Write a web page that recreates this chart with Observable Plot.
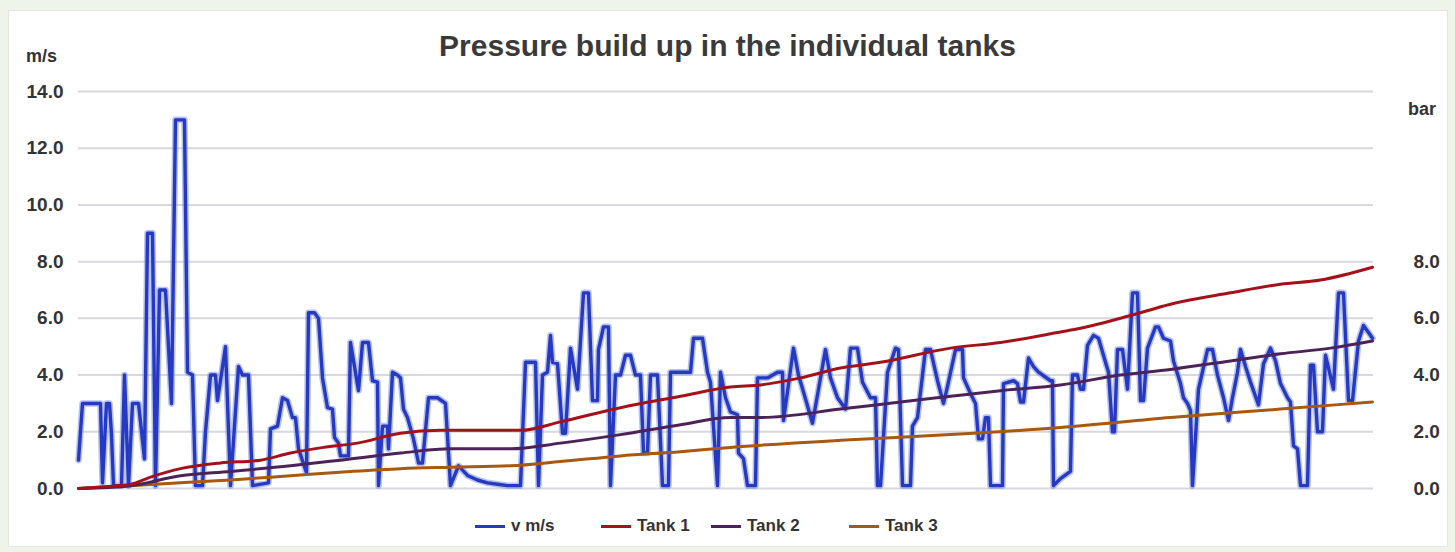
<!DOCTYPE html>
<html>
<head>
<meta charset="utf-8">
<script src="https://cdn.jsdelivr.net/npm/d3@7"></script>
<script src="https://cdn.jsdelivr.net/npm/@observablehq/plot@0.6"></script>
<style>
  html, body { margin:0; padding:0; }
  body { width:1455px; height:552px; background:#eef4ea; position:relative; overflow:hidden;
         font-family:"Liberation Sans", Arial, sans-serif; }
  #panel { position:absolute; left:8px; top:10px; width:1440px; height:537px; background:#ffffff; border:1px solid #e2e8de; box-sizing:border-box; }
  #chart { position:absolute; left:0; top:0; }
  .lbl { position:absolute; font-weight:bold; color:#333; white-space:nowrap; }
  #title { left:0; width:1455px; top:29px; text-align:center; font-size:30px; color:#3a3a3a; }
  #ylab { left:26px; top:46px; font-size:18px; }
  #y2lab { left:1408px; top:99px; font-size:18px; }
  .item { position:absolute; top:516px; display:flex; align-items:center; gap:6px; font-weight:bold; font-size:17px; color:#333; white-space:nowrap; }
  .sw { width:30px; height:3px; }
</style>
</head>
<body>
<div id="panel"></div>
<div id="chart"></div>
<div class="lbl" id="title">Pressure build up in the individual tanks</div>
<div class="lbl" id="ylab">m/s</div>
<div class="lbl" id="y2lab">bar</div>
<div id="legend"></div>
<script>
// ---- data ----
const seriesNames = ["v m/s", "Tank 1", "Tank 2", "Tank 3"];
const seriesColors = ["#2639c2", "#a3121a", "#4c2358", "#a8580f"];
const yTicks = [0, 2, 4, 6, 8, 10, 12, 14];
const barTicks = [0, 2, 4, 6, 8];

const vTime = [0,4,22,24,28,31,33,35,43,46,50,54,60,66,69,74,77,81,87,93,97,106,109,114,117,124,127,132,137,139,147,152,160,164,170,174,190,192,199,204,209,214,217,220,228,230,236,240,244,249,254,256,260,262,270,272,280,284,290,294,299,300,304,309,310,314,319,322,325,329,335,340,344,350,359,367,372,380,389,399,409,419,429,442,447,457,460,464,469,472,474,479,484,487,492,499,505,510,514,519,520,525,530,532,537,542,547,552,557,562,565,569,572,579,584,590,592,612,615,624,629,632,639,642,647,652,659,660,665,669,677,679,689,699,704,705,715,720,725,734,747,752,759,767,772,779,784,792,797,799,802,809,817,820,824,832,834,839,847,852,859,865,869,877,884,885,892,897,900,904,907,910,912,924,925,935,939,942,945,950,955,960,972,974,975,982,992,994,999,1002,1005,1009,1015,1020,1027,1030,1034,1036,1039,1044,1049,1054,1059,1062,1065,1069,1077,1080,1085,1092,1095,1102,1105,1109,1112,1114,1120,1129,1134,1139,1145,1150,1154,1159,1162,1167,1172,1180,1185,1192,1197,1202,1209,1212,1215,1219,1222,1229,1232,1235,1239,1244,1247,1255,1260,1265,1270,1274,1280,1285,1290,1294];
const vMs = [1.0,3.0,3.0,0.2,3.0,3.0,1.9,0.1,0.1,4.0,0.1,3.0,3.0,1.05,9.0,9.0,0.1,7.0,7.0,3.0,13.0,13.0,4.1,4.0,0.1,0.1,2.0,4.0,4.0,3.1,5.0,0.1,4.3,4.0,4.0,0.1,0.2,2.1,2.2,3.2,3.1,2.5,2.5,1.4,0.56,6.2,6.2,6.0,3.9,2.85,2.8,1.8,1.6,1.15,1.15,5.15,3.45,5.15,5.15,3.8,3.75,0.1,2.2,2.2,1.4,4.1,4.0,3.9,2.8,2.5,1.75,0.9,0.9,3.2,3.2,3.0,0.1,0.8,0.46,0.3,0.2,0.15,0.1,0.1,4.45,4.45,0.1,4.0,4.1,5.4,4.45,4.4,1.95,1.95,4.95,3.5,6.9,6.9,3.1,3.1,4.9,5.7,5.7,0.1,4.0,4.0,4.7,4.7,4.0,4.0,1.25,1.25,4.0,4.0,0.1,0.1,4.1,4.1,5.3,5.3,4.1,3.75,0.1,4.1,3.2,2.7,2.6,1.25,1.05,0.1,0.1,3.9,3.9,4.1,4.1,2.4,4.95,4.0,3.4,2.3,4.9,3.9,3.2,2.8,4.95,4.95,3.75,3.2,3.2,0.1,0.1,4.1,4.95,4.9,0.1,0.1,2.2,2.5,4.9,4.9,3.8,3.0,3.6,4.9,4.9,3.9,3.35,3.0,1.75,1.75,2.5,2.5,0.1,0.1,3.7,3.8,3.7,3.05,3.05,4.6,4.3,4.1,3.8,3.8,0.1,0.35,0.6,4.0,4.0,3.5,3.5,5.05,5.4,5.3,4.45,4.1,2.0,2.0,4.9,4.9,3.5,6.9,6.9,3.1,3.1,4.95,5.7,5.7,5.3,5.2,4.5,3.7,3.2,3.0,2.75,0.1,3.5,4.9,4.9,4.0,3.2,2.4,3.2,4.1,4.9,4.3,3.75,2.95,4.4,4.95,4.5,3.7,3.2,3.05,1.5,1.4,0.1,0.1,4.35,4.35,2.0,2.0,4.7,3.5,6.9,6.9,3.1,3.1,5.2,5.75,5.5,5.3];

const tank1Time = [0,22,52,72,102,142,182,212,245,279,322,362,442,482,542,602,652,682,722,762,802,872,922,982,1002,1052,1092,1152,1202,1242,1294];
const tank1Bar  = [0,0.05,0.15,0.4,0.7,0.9,1.0,1.25,1.45,1.6,1.95,2.05,2.05,2.35,2.85,3.25,3.58,3.65,3.9,4.25,4.45,4.95,5.15,5.52,5.65,6.1,6.5,6.9,7.2,7.35,7.8];
const tank2Time = [0,52,102,152,212,262,322,372,432,482,542,602,652,682,762,822,872,922,982,1042,1092,1152,1202,1252,1294];
const tank2Bar  = [0,0.1,0.45,0.6,0.8,1.0,1.25,1.4,1.4,1.6,1.9,2.25,2.5,2.5,2.8,3.05,3.25,3.45,3.65,4.0,4.2,4.5,4.75,4.95,5.2];
const tank3Time = [0,52,102,152,212,272,322,372,432,482,542,602,652,762,872,982,1092,1202,1294];
const tank3Bar  = [0,0.1,0.2,0.3,0.45,0.6,0.7,0.75,0.8,0.95,1.15,1.3,1.45,1.7,1.9,2.15,2.5,2.8,3.05];

// ---- build tables ----
const zip = (ts, vs) => ts.map((t, i) => ({t, v: vs[i]}));
const vData = zip(vTime, vMs);
const t1 = zip(tank1Time, tank1Bar);
const t2 = zip(tank2Time, tank2Bar);
const t3 = zip(tank3Time, tank3Bar);
const fmt = d => d.toFixed(1);

const chart = Plot.plot({
  width: 1455, height: 552,
  marginLeft: 78, marginRight: 82, marginTop: 91, marginBottom: 64,
  style: {background: "transparent", fontFamily: "'Liberation Sans', Arial, sans-serif", overflow: "visible"},
  x: {domain: [0, 1295], axis: null},
  y: {domain: [0, 14]},
  marks: [
    Plot.gridY(yTicks, {stroke: "#d8d8de", strokeOpacity: 1, strokeWidth: 2}),
    Plot.axisY(yTicks, {anchor: "left", tickSize: 0, tickPadding: 15, tickFormat: fmt, fontSize: 19, fontWeight: "bold", fill: "#333", label: null}),
    Plot.axisY(barTicks, {anchor: "right", tickSize: 0, tickPadding: 40, tickFormat: fmt, fontSize: 19, fontWeight: "bold", fill: "#333", label: null, textAnchor: "start"}),
    Plot.line(vData, {x: "t", y: "v", stroke: "#7d8fe0", strokeWidth: 6.5, strokeOpacity: 0.55, strokeLinejoin: "round"}),
    Plot.line(vData, {x: "t", y: "v", stroke: seriesColors[0], strokeWidth: 3.4, strokeLinejoin: "round"}),
    Plot.line(t3, {x: "t", y: "v", stroke: seriesColors[3], strokeWidth: 3, curve: "monotone-x"}),
    Plot.line(t2, {x: "t", y: "v", stroke: seriesColors[2], strokeWidth: 3, curve: "monotone-x"}),
    Plot.line(t1, {x: "t", y: "v", stroke: seriesColors[1], strokeWidth: 3, curve: "monotone-x"})
  ]
});
document.getElementById("chart").appendChild(chart);

const legendLeft = [475, 601, 711, 849];
const legend = document.getElementById("legend");
seriesNames.forEach((name, i) => {
  const item = document.createElement("div");
  item.className = "item";
  item.style.left = legendLeft[i] + "px";
  const sw = document.createElement("div");
  sw.className = "sw";
  sw.style.background = seriesColors[i];
  const tx = document.createElement("span");
  tx.textContent = name;
  item.appendChild(sw); item.appendChild(tx);
  legend.appendChild(item);
});
</script>
</body>
</html>
